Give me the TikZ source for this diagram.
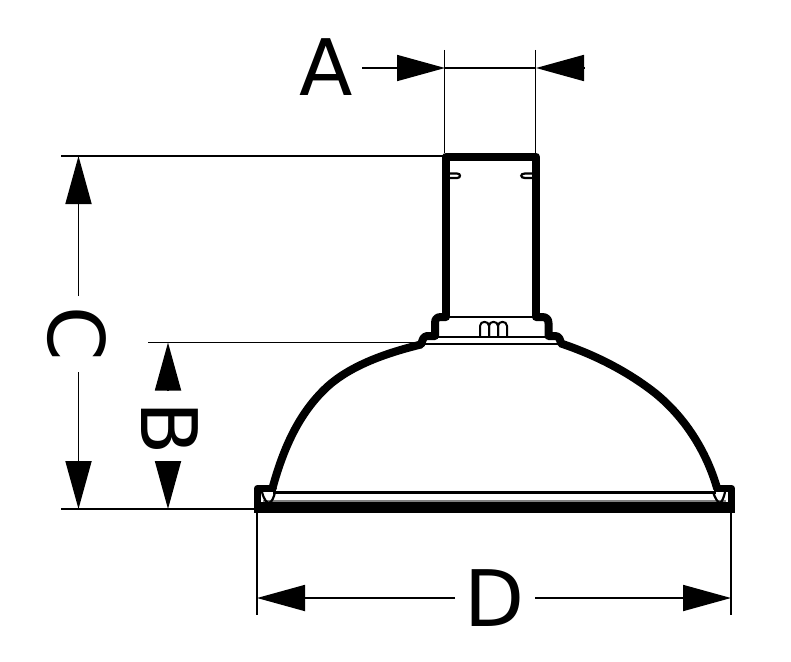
\documentclass[tikz,border=0pt]{standalone}
\usepackage{fontspec}
\setmainfont{DejaVu Sans}
\usetikzlibrary{arrows.meta}
\tikzset{
 dim/.style={line width=1.8pt,black},
 arr/.style={dim,-{Triangle[length=48pt,width=26pt]}},
 heavy/.style={line width=8pt,line join=round,line cap=round},
 thin2/.style={line width=2.2pt},
 lab/.style={font=\fontsize{78}{78}\selectfont,inner sep=0pt},
}
\begin{document}
\begin{tikzpicture}[x=1pt,y=-1pt]
\useasboundingbox (0,0) rectangle (791,661);
\fill[white] (0,0) rectangle (791,661);
\node[lab] (la) at (326,67) {A};
\node[lab,rotate=-90] (lc) at (77,334) {C};
\node[lab,rotate=-90] (lb) at (170,428) {B};
\node[lab] (ld) at (495,598) {D};
\coordinate (a1) at (445,68); \coordinate (a2) at (536,68);
\coordinate (a0) at (362,68); \coordinate (a3) at (584,68);
\draw[arr] (a0) -- (a1);
\draw[arr] (a3) -- (a2);
\draw[dim] (a1) -- (a2);
\draw[dim] (444.5,50) -- (444.5,153);
\draw[dim] (535.5,50) -- (535.5,153);
\draw[dim] (61,156) -- (443,156);
\draw[dim] (148,342.5) -- (420,342.5);
\draw[dim] (61,509) -- (256,509);
\draw[dim] (257,512) -- (257,615);
\draw[dim] (731,512) -- (731,615);
\draw[arr] (78.5,296) -- (78.5,156);
\draw[arr] (78.5,372) -- (78.5,509);
\draw[arr] (168,391) -- (168,342.5);
\draw[arr] (168,461) -- (168,509);
\draw[arr] (455,598) -- (257,598);
\draw[arr] (535,598) -- (731,598);
% body
\draw[thin2] (446,317) -- (536,317);
\draw[thin2] (437,337) -- (548,337);
\draw[thin2] (425,344) -- (558,344);
\draw[thin2] (273,492.5) -- (716,492.5);
\draw[line width=1.2pt,gray] (263,501) -- (726,501);
\draw[thin2] (262,492) .. controls (264,500) and (267,503) .. (269,503) .. controls (272,502) and (274,497) .. (275,492);
\draw[thin2] (713,492) .. controls (715,498) and (718,503) .. (720,503) .. controls (722,502) and (724,497) .. (725,492);
\draw[heavy] (446,316) -- (446,156.5) -- (536,156.5) -- (536,316);
\draw[heavy] (446,317) -- (441,317) .. controls (437,317) and (435,319) .. (435,323) -- (435,336)
 -- (427,336) .. controls (423,337) and (423,339) .. (421,344.5)
 .. controls (388,352.5) and (351,365) .. (327,387)
 .. controls (299,413) and (283.5,448) .. (272.5,488);
\draw[heavy] (536,317) -- (542,317) .. controls (546,317) and (548.5,319) .. (548.5,323) -- (548.5,336)
 -- (555,336) .. controls (559,336) and (560,339) .. (561,343.5)
 .. controls (594,354.5) and (627,371) .. (655,393)
 .. controls (684,416.5) and (706,450) .. (717,488);
\draw[heavy,line width=7.5pt] (273,488.5) -- (257.5,488.5) -- (257.5,507) (731.5,507) -- (731.5,488.5) -- (717,488.5);
\draw[line width=11pt,line cap=butt] (254,507.5) -- (735,507.5);
% bumps
\foreach \x in {480,489,498}{\draw[line width=2pt] (\x,337) -- (\x,326) .. controls (\x,320.5) and (\x+9,320.5) .. (\x+9,326) -- (\x+9,337);}
% slots
\draw[thin2] (450,173.5) -- (457,173.5) .. controls (461,173.5) and (461,178) .. (457,178) -- (450,178);
\draw[thin2] (532,173.5) -- (525,173.5) .. controls (520,173.5) and (520,178) .. (525,178) -- (532,178);
\end{tikzpicture}
\end{document}
